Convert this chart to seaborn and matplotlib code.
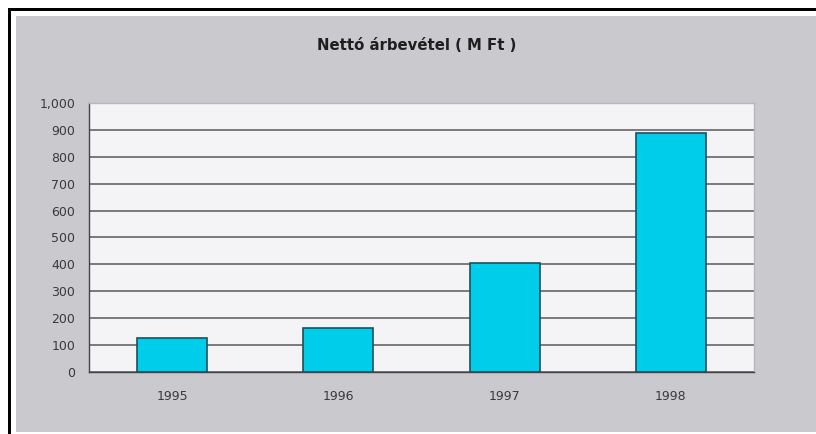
import matplotlib
matplotlib.use("Agg")
import matplotlib.pyplot as plt
import matplotlib.ticker as mticker
import numpy as np
import pandas as pd
import seaborn as sns
from matplotlib.patches import Rectangle

# Adatok (M Ft)
years = ["1995", "1996", "1997", "1998"]
revenue = [125, 164, 406, 890]
title = "Nettó árbevétel ( M Ft )"
yticks = [0, 100, 200, 300, 400, 500, 600, 700, 800, 900, 1000]

df = pd.DataFrame({"ev": years, "arbevetel": revenue})

sns.set_style("white")
plt.rcParams["font.family"] = ["DejaVu Sans"]

W, H = 816, 434
fig = plt.figure(figsize=(W / 100, H / 100), dpi=100, facecolor="white")

# szürke háttér + fekete keret (felül és balra)
fig.patches.append(Rectangle((16 / W, 2 / H), (W - 16) / W, (H - 18) / H,
                             transform=fig.transFigure, facecolor="#c9c9ce",
                             edgecolor="none", zorder=-2))
fig.patches.append(Rectangle((8 / W, (H - 11) / H), (W - 8) / W, 3 / H,
                             transform=fig.transFigure, facecolor="black",
                             edgecolor="none", zorder=-1))
fig.patches.append(Rectangle((8 / W, 0), 3 / W, (H - 8) / H,
                             transform=fig.transFigure, facecolor="black",
                             edgecolor="none", zorder=-1))

ax = fig.add_axes([89 / W, (H - 372) / H, 665 / W, 269 / H])
ax.set_zorder(5)
ax.set_facecolor("#f4f4f6")

sns.barplot(data=df, x="ev", y="arbevetel", ax=ax, color="#00cdea",
            width=0.42, edgecolor="#1f4f5c", linewidth=1.2, saturation=1,
            zorder=3)

ax.set_xlim(-0.5, len(years) - 0.5)
ax.set_ylim(0, 1000)
ax.set_yticks(yticks)
ax.yaxis.set_major_formatter(mticker.FuncFormatter(lambda v, p: f"{int(v):,}"))
ax.grid(axis="y", color="#5a5a5e", linewidth=1.1, zorder=1)
ax.set_axisbelow(True)

ax.set_xticks(np.arange(len(years)))
ax.set_xticklabels(years)
ax.set_xticks(np.arange(-0.5, len(years)), minor=True)
ax.tick_params(axis="x", which="major", length=0, pad=13, labelsize=9,
               labelcolor="#3a3a3a")
ax.tick_params(axis="x", which="minor", length=4, width=1, color="#333333",
               direction="out")
ax.tick_params(axis="y", length=4, width=1, color="#333333", direction="out",
               labelsize=9, labelcolor="#3a3a3a", pad=6)
ax.set_xlabel("")
ax.set_ylabel("")

for side in ["left", "bottom"]:
    ax.spines[side].set_color("#444448")
    ax.spines[side].set_linewidth(1)
for side in ["top", "right"]:
    ax.spines[side].set_visible(True)
    ax.spines[side].set_color("#b8b8bc")
    ax.spines[side].set_linewidth(1)

fig.text(417 / W, (H - 46) / H, title, ha="center", va="center",
         fontsize=10.7, fontweight="bold", color="#1e1e1e")

fig.savefig("out.png", dpi=100, facecolor=fig.get_facecolor())
